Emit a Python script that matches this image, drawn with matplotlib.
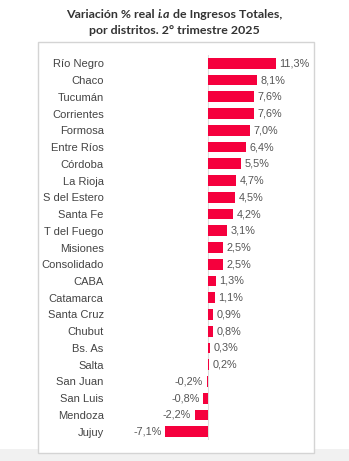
import matplotlib.pyplot as plt
from matplotlib.patches import Rectangle

# datos: variación % real interanual de ingresos totales, 2T 2025
distritos = ['Río Negro', 'Chaco', 'Tucumán', 'Corrientes', 'Formosa', 'Entre Ríos',
             'Córdoba', 'La Rioja', 'S del Estero', 'Santa Fe', 'T del Fuego', 'Misiones',
             'Consolidado', 'CABA', 'Catamarca', 'Santa Cruz', 'Chubut', 'Bs. As',
             'Salta', 'San Juan', 'San Luis', 'Mendoza', 'Jujuy']
variacion = [11.3, 8.1, 7.6, 7.6, 7.0, 6.4, 5.5, 4.7, 4.5, 4.2, 3.1, 2.5,
             2.5, 1.3, 1.1, 0.9, 0.8, 0.3, 0.2, -0.2, -0.8, -2.2, -7.1]

W, H = 349, 461
fig = plt.figure(figsize=(W / 100, H / 100), dpi=100)
fig.patch.set_facecolor('white')

# fondo gris abajo + caja blanca
fig.patches.append(Rectangle((0, 0), 1, 12 / H, transform=fig.transFigure,
                             facecolor='#f1f1f1', edgecolor='none', zorder=0))
fig.patches.append(Rectangle((38 / W, (H - 453) / H), 276 / W, 411 / H,
                             transform=fig.transFigure, facecolor='white',
                             edgecolor='#d4d4d4', linewidth=1.0, zorder=1))

# titulo: primera linea en tres partes (i.a en cursiva)
tkw = dict(va='center', fontsize=8.9, fontweight='bold', color='#333333', family='Lato')
partes = [('Variación % real ', 'normal'), ('i.a', 'italic'), (' de Ingresos Totales,', 'normal')]
r = fig.canvas.get_renderer()
tmp = [fig.text(0, 0, p, style=st, **tkw) for p, st in partes]
anchos = [t.get_window_extent(r).width for t in tmp]
for t in tmp:
    t.remove()
xx = 174 - sum(anchos) / 2
for (p, st), w in zip(partes, anchos):
    fig.text(xx / W, 1 - 15 / H, p, ha='left', style=st, **tkw)
    xx += w
fig.text(174 / W, 1 - 31 / H, 'por distritos. 2° trimestre 2025', ha='center', **tkw)

# ejes: 0 en x=208 px, 6 px por punto
x0, x1 = 112, 300
ax = fig.add_axes([x0 / W, (H - 440) / H, (x1 - x0) / W, 385 / H])
ax.set_zorder(2)
ax.patch.set_alpha(0)
ax.set_xlim((x0 - 208) / 6, (x1 - 208) / 6)
n = len(distritos)
ax.set_ylim(n - 0.5, -0.5)

ypos = list(range(n))
ax.barh(ypos, variacion, height=0.64, color='#f5003d')
ax.axvline(0, color='#dddddd', linewidth=0.8, zorder=0)

for y, v in zip(ypos, variacion):
    txt = f'{v:.1f}%'.replace('.', ',')
    if v >= 0:
        ax.text(v + 0.6, y, txt, ha='left', va='center', fontsize=7.8,
                color='#555555', family='Liberation Sans')
    else:
        ax.text(v - 0.6, y, txt, ha='right', va='center', fontsize=7.8,
                color='#555555', family='Liberation Sans')

ax.set_yticks(ypos)
ax.set_yticklabels(distritos, fontsize=8, color='#444444', family='Liberation Sans')
ax.tick_params(axis='y', length=0, pad=6)
ax.set_xticks([])
for s in ax.spines.values():
    s.set_visible(False)

fig.savefig('out.png', dpi=100)
